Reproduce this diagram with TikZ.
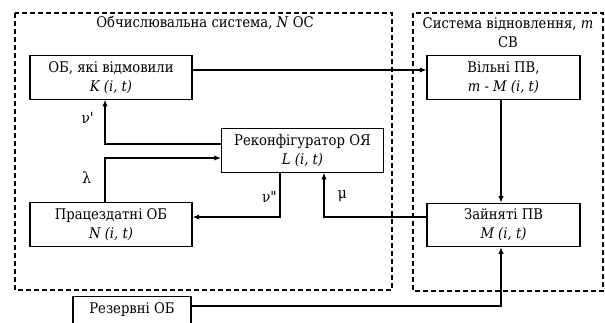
\documentclass[tikz,border=0pt]{standalone}
\usepackage{fontspec}
\setmainfont{DejaVu Serif Condensed}
\newfontfamily\plainserif{DejaVu Serif Condensed}
\usetikzlibrary{arrows.meta}

\begin{document}
\begin{tikzpicture}[x=0.75pt,y=-0.75pt,
    font=\fontsize{11}{14.3}\selectfont,
    frame/.style={draw,line width=0.8pt,dash pattern=on 3.75pt off 2.25pt},
    link/.style={draw,line width=0.9pt,-{Latex[length=5pt,width=4pt]}},
    greek/.style={font=\plainserif\fontsize{11.5}{14}\selectfont,inner sep=0pt}]
\useasboundingbox (0,0) rectangle (605,322);

\draw[frame] (15,13) rectangle (392,290);
\draw[frame] (413,13) rectangle (603,291);
\node (ostitle) at (205,23) {Обчислювальна система, \textit{N} ОС};
\node (svtitle)[align=center] at (508,33) {Система відновлення, \textit{m}\\СВ};

\begin{scope}[every node/.style={draw,line width=0.8pt,align=center,inner sep=0pt,
                                 minimum width=121.5pt,minimum height=32.5pt}]
    \node (fail) at (111,77.5) {ОБ, які відмовили\\\textit{K (i, t)}};
    \node (reconf) at (302.5,150.5) {Реконфігуратор ОЯ\\\textit{L (i, t)}};
    \node (work)[minimum height=33.5pt] at (111,224.5) {Працездатні ОБ\\\textit{N (i, t)}};
    \node (free)[minimum width=114.75pt] at (503.5,77.5) {Вільні ПВ,\\\textit{m - M (i, t)}};
    \node (busy)[minimum width=114.75pt] at (503.5,225) {Зайняті ПВ\\\textit{M (i, t)}};
    \node (reserve)[anchor=north,minimum width=88.5pt,minimum height=0pt,
                    text height=13pt,text depth=30pt] at (132,296) {Резервні ОБ};
\end{scope}

\begin{scope}[every node/.style={greek}]
    \path[link] (fail.east|-0,70) -- (free.west|-0,70);
    \path[link] (free.south-|501,0) -- (busy.north-|501,0);
    \path[link] (reconf.west|-0,144) -| node[pos=.8,anchor=east,xshift=-8pt] {ν'} (fail.south-|105,0);
    \path[link] (work.north-|105,0) |- node[pos=.28,anchor=east,xshift=-10pt] {λ} (reconf.west|-0,158);
    \path[link] (reconf.south-|280,0) |- node[pos=.27,anchor=east,xshift=-2pt] {ν"} (work.east|-0,217);
    \path[link] (busy.west|-0,217) -| node[pos=.74,anchor=west,xshift=10pt] {μ} (reconf.south-|324,0);
    \path[link] (reserve.east|-0,306) -| (busy.south-|501,0);
\end{scope}
\end{tikzpicture}
\end{document}
